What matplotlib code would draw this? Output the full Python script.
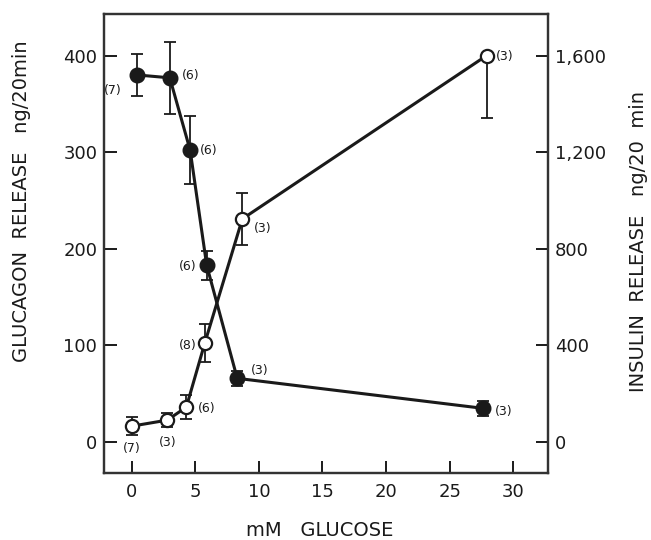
import matplotlib
matplotlib.use("Agg")
import matplotlib.pyplot as plt
import numpy as np

# Glucagon (filled circles, left axis)
glu_x = [0.4, 3.0, 4.6, 5.9, 8.3, 27.6]
glu_y = [380, 377, 302, 183, 66, 35]
glu_err = [22, 37, 35, 15, 8, 8]
glu_n = ["(7)", "(6)", "(6)", "(6)", "(3)", "(3)"]

# Insulin (open circles, right axis)
ins_x = [0.0, 2.8, 4.3, 5.75, 8.7, 27.9]
ins_y = [66, 91, 145, 410, 924, 1600]
ins_err_lo = [36, 28, 48, 80, 106, 260]
ins_err_hi = [36, 28, 48, 80, 106, 0]
ins_n = ["(7)", "(3)", "(6)", "(8)", "(3)", "(3)"]

x_ticks = [0, 5, 10, 15, 20, 25, 30]
left_ticks = [0, 100, 200, 300, 400]
right_ticks = [0, 400, 800, 1200, 1600]
right_labels = ["0", "400", "800", "1,200", "1,600"]

# label placement (offset in points, alignment)
glu_lab_pos = [((-11, -11), "right"), ((9, 2), "left"), ((7, 0), "left"),
               ((-7, -1), "right"), ((10, 6), "left"), ((9, -2), "left")]
ins_lab_pos = [((0, -16), "center"), ((0, -16), "center"), ((8, -1), "left"),
               ((-6, -2), "right"), ((8, -7), "left"), ((7, -1), "left")]

ink = "#1a1a1a"
plt.rcParams['font.family'] = ['DejaVu Sans']

fig = plt.figure(figsize=(6.51, 5.40), dpi=100)
ax = fig.add_axes([0.160, 0.124, 0.682, 0.850])
ax2 = ax.twinx()

ax.set_xlim(-2.16, 32.74)
ax.set_ylim(-32, 443)
ax2.set_ylim(-128, 1772)

# insulin
ax2.errorbar(ins_x, ins_y, yerr=[ins_err_lo, ins_err_hi], fmt='none', ecolor=ink,
             elinewidth=1.3, capsize=4.5, capthick=1.3, zorder=2)
ax2.plot(ins_x, ins_y, '-', color=ink, lw=2.2, zorder=3)
ax2.plot(ins_x, ins_y, 'o', mfc='white', mec=ink, mew=1.6, ms=9.5, zorder=4)

# glucagon
ax.errorbar(glu_x, glu_y, yerr=glu_err, fmt='none', ecolor=ink,
            elinewidth=1.3, capsize=4.5, capthick=1.3, zorder=2)
ax.plot(glu_x, glu_y, '-', color=ink, lw=2.2, zorder=3)
ax.plot(glu_x, glu_y, 'o', mfc=ink, mec=ink, ms=10.5, zorder=4)

for xv, yv, t, (off, ha) in zip(glu_x, glu_y, glu_n, glu_lab_pos):
    ax.annotate(t, (xv, yv), xytext=off, textcoords='offset points',
                ha=ha, va='center', fontsize=9, color=ink)
for xv, yv, t, (off, ha) in zip(ins_x, ins_y, ins_n, ins_lab_pos):
    ax2.annotate(t, (xv, yv), xytext=off, textcoords='offset points',
                 ha=ha, va='center', fontsize=9, color=ink)

ax.set_xticks(x_ticks)
ax.set_yticks(left_ticks)
ax2.set_yticks(right_ticks)
ax2.set_yticklabels(right_labels)

for a in (ax, ax2):
    for s in a.spines.values():
        s.set_linewidth(1.6)
        s.set_color("#333333")
    a.tick_params(direction='in', length=9, width=1.4, colors=ink,
                  labelsize=13, pad=5)
ax.tick_params(axis='x', pad=7)

W, H = 651.0, 540.0
fig.text(22 / W, 1 - 201 / H, "GLUCAGON  RELEASE   ng/20min", fontsize=14,
         color=ink, rotation=90, ha='center', va='center')
fig.text(638 / W, 1 - 241 / H, "INSULIN  RELEASE   ng/20  min", fontsize=14,
         color=ink, rotation=90, ha='center', va='center')
fig.text(320 / W, 1 - 530 / H, "mM   GLUCOSE", fontsize=14,
         color=ink, ha='center', va='center')

fig.savefig("out.png", dpi=100)
